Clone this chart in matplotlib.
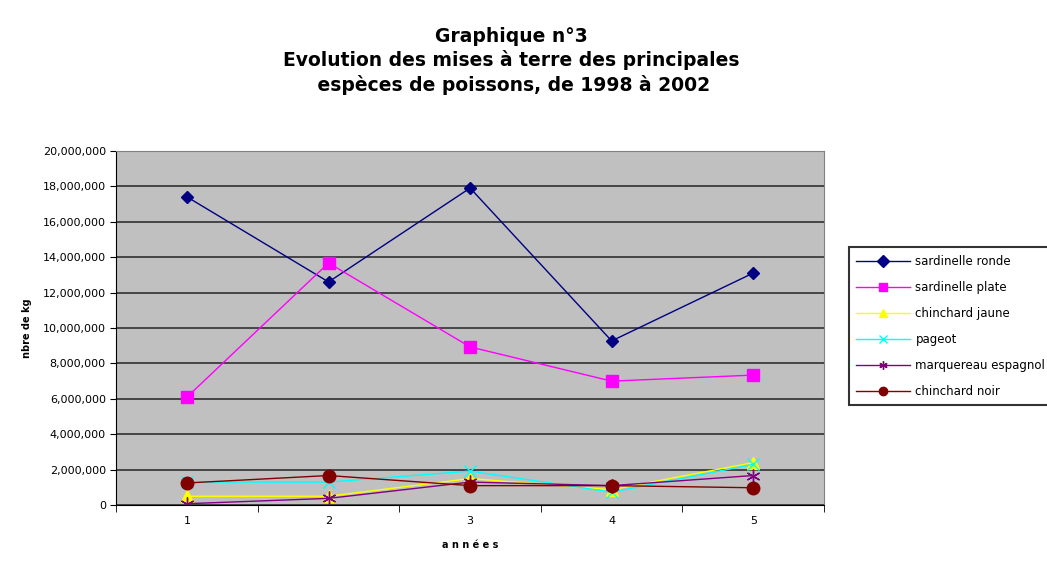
import matplotlib.pyplot as plt
import numpy as np

# Donnees (kg)
annees = [1, 2, 3, 4, 5]
sardinelle_ronde = [17400000, 12600000, 17900000, 9270000, 13100000]
sardinelle_plate = [6100000, 13670000, 8930000, 7000000, 7340000]
chinchard_jaune = [500000, 500000, 1500000, 870000, 2400000]
pageot = [1300000, 1300000, 1920000, 730000, 2300000]
marquereau = [80000, 380000, 1300000, 1100000, 1670000]
chinchard_noir = [1250000, 1670000, 1100000, 1100000, 980000]

series = [
    ("sardinelle ronde", sardinelle_ronde, "#000080", "D", 6),
    ("sardinelle plate", sardinelle_plate, "#FF00FF", "s", 8),
    ("chinchard jaune", chinchard_jaune, "#FFFF00", "^", 8),
    ("pageot", pageot, "#00FFFF", "x", 8),
    ("marquereau espagnol", marquereau, "#800080", (6, 2, 0), 10),
    ("chinchard noir", chinchard_noir, "#800000", "o", 9),
]

fig = plt.figure(figsize=(10.47, 5.65), dpi=100)
ax = fig.add_axes([0.111, 0.106, 0.676, 0.627])
ax.set_facecolor("#C0C0C0")

for nom, vals, col, mk, ms in series:
    ax.plot(annees, vals, color=col, marker=mk, markersize=ms, linewidth=1,
            markeredgecolor=col, markerfacecolor=col, label=nom)

ax.set_xlim(0.5, 5.5)
ax.set_ylim(0, 20000000)
ax.set_yticks(np.arange(0, 20000001, 2000000))
ax.set_yticklabels([f"{v:,}" for v in range(0, 20000001, 2000000)], fontsize=8)
ax.yaxis.grid(True, color="#303030", linewidth=1.2)
ax.set_axisbelow(True)
ax.set_xticks(annees)
ax.set_xticklabels([str(a) for a in annees], fontsize=8)
ax.tick_params(axis="x", length=0, pad=8)
ax.set_xticks(np.arange(0.5, 5.6, 1), minor=True)
ax.tick_params(axis="x", which="minor", length=5, direction="out")
ax.tick_params(axis="y", length=4, direction="out")
for s in ax.spines.values():
    s.set_color("#808080")
ax.spines["left"].set_color("black")
ax.spines["bottom"].set_color("black")

ax.set_xlabel("a n n é e s", fontsize=7, fontweight="bold", labelpad=10)
ax.set_ylabel("nbre de kg", fontsize=7, fontweight="bold", labelpad=8)

fig.text(0.488, 0.953, "Graphique n°3\nEvolution des mises à terre des principales\n espèces de poissons, de 1998 à 2002",
         ha="center", va="top", fontsize=13.5, fontweight="bold", linespacing=1.28)

leg = fig.legend(loc="upper left", bbox_to_anchor=(0.805, 0.573), fontsize=8.5,
                 frameon=True, fancybox=False, edgecolor="black", handlelength=4.5,
                 labelspacing=1.1, borderpad=0.65, handletextpad=0.5)
leg.get_frame().set_linewidth(1.5)
for h in leg.legend_handles:
    h.set_markersize(6)

plt.savefig("out.png", dpi=100)
